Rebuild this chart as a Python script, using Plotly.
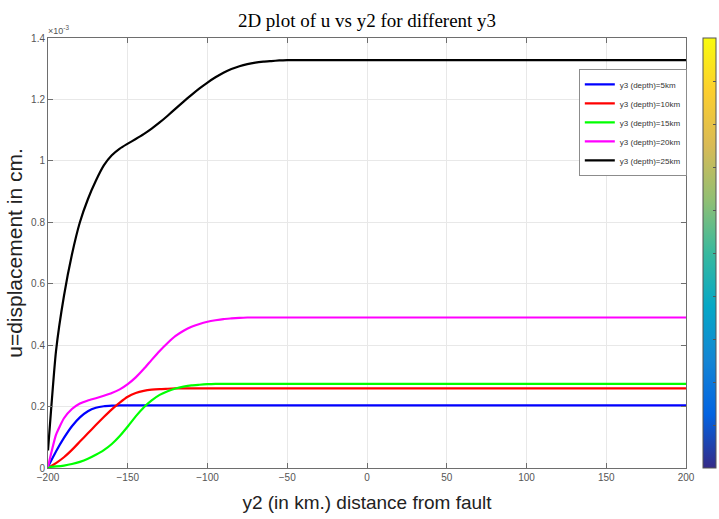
import plotly.graph_objects as go

# distance from fault (km)
y2 = [-200, -195, -190, -185, -180, -175, -170, -165, -160, -155, -150, -145, -140,
      -135, -130, -125, -120, -115, -110, -105, -100, -95, -90, -85, -80, -75, -70,
      -65, -60, -55, -50, -45, -40, 0, 50, 100, 150, 200]

# displacement u, in units of 1e-3 cm
u_5km = [0.004, 0.054, 0.098, 0.136, 0.165, 0.185, 0.196, 0.201, 0.203, 0.204, 0.204, 0.204, 0.204,
         0.204, 0.204, 0.204, 0.204, 0.204, 0.204, 0.204, 0.204, 0.204, 0.204, 0.204, 0.204, 0.204, 0.204,
         0.204, 0.204, 0.204, 0.204, 0.204, 0.204, 0.204, 0.204, 0.204, 0.204, 0.204]
u_10km = [0.000, 0.016, 0.035, 0.059, 0.086, 0.113, 0.140, 0.166, 0.191, 0.213, 0.232, 0.244, 0.251,
          0.255, 0.257, 0.258, 0.259, 0.259, 0.259, 0.259, 0.259, 0.259, 0.259, 0.259, 0.259, 0.259, 0.259,
          0.259, 0.259, 0.259, 0.259, 0.259, 0.259, 0.259, 0.259, 0.259, 0.259, 0.259]
u_15km = [0.003, 0.005, 0.008, 0.013, 0.020, 0.030, 0.043, 0.058, 0.078, 0.104, 0.135, 0.168, 0.197,
          0.220, 0.238, 0.250, 0.259, 0.265, 0.269, 0.271, 0.273, 0.274, 0.274, 0.274, 0.274, 0.274, 0.274,
          0.274, 0.274, 0.274, 0.274, 0.274, 0.274, 0.274, 0.274, 0.274, 0.274, 0.274]
u_20km = [0.004, 0.108, 0.162, 0.192, 0.210, 0.220, 0.227, 0.235, 0.244, 0.256, 0.273, 0.295, 0.322,
          0.352, 0.381, 0.407, 0.430, 0.447, 0.460, 0.469, 0.476, 0.481, 0.485, 0.487, 0.489, 0.490, 0.490,
          0.490, 0.490, 0.490, 0.490, 0.490, 0.490, 0.490, 0.490, 0.490, 0.490, 0.490]
u_25km = [0.057, 0.380, 0.560, 0.695, 0.800, 0.875, 0.935, 0.985, 1.018, 1.040, 1.056, 1.071, 1.087,
          1.105, 1.125, 1.147, 1.170, 1.193, 1.215, 1.236, 1.255, 1.272, 1.287, 1.299, 1.308, 1.315, 1.320,
          1.323, 1.325, 1.327, 1.328, 1.328, 1.328, 1.328, 1.328, 1.328, 1.328, 1.328]

series_names = ["y3 (depth)=5km", "y3 (depth)=10km", "y3 (depth)=15km",
                "y3 (depth)=20km", "y3 (depth)=25km"]
series_values = [u_5km, u_10km, u_15km, u_20km, u_25km]
series_colors = ["#0000ff", "#ff0000", "#00ff00", "#ff00ff", "#000000"]

x_ticks = [-200, -150, -100, -50, 0, 50, 100, 150, 200]
y_ticks = [0, 0.2, 0.4, 0.6, 0.8, 1.0, 1.2, 1.4]
y_tick_labels = ["0", "0.2", "0.4", "0.6", "0.8", "1", "1.2", "1.4"]

parula = [
    [0.0, "#352a87"], [0.125, "#0363e1"], [0.25, "#1485d4"], [0.375, "#06a7c6"],
    [0.5, "#38b99e"], [0.625, "#92bf73"], [0.75, "#d9ba56"], [0.875, "#fcce2e"],
    [1.0, "#f9fb0e"],
]

SANS = "Liberation Sans, Arial, sans-serif"

fig = go.Figure()
for name, vals, col in zip(series_names, series_values, series_colors):
    fig.add_trace(go.Scatter(x=y2, y=vals, mode="lines", name=name,
                             line=dict(color=col, width=2.2, shape="spline", smoothing=0.5)))

# colorbar (MATLAB default parula), no labels
fig.add_trace(go.Scatter(
    x=[None], y=[None], mode="markers", showlegend=False, hoverinfo="skip",
    marker=dict(color=[0], cmin=0, cmax=1, colorscale=parula, showscale=True,
                colorbar=dict(x=1.0266, xanchor="left", y=0.5, yanchor="middle",
                              len=1.0, lenmode="fraction", thickness=13,
                              xpad=0, ypad=0, outlinecolor="#555555", outlinewidth=1,
                              ticks="inside", ticklen=3, tickcolor="#555555",
                              tickvals=[i / 10 for i in range(11)],
                              showticklabels=False))))

axis_common = dict(ticks="inside", ticklen=5, tickcolor="#6e6e6e", mirror="ticks",
                   showline=True, linecolor="#6e6e6e", linewidth=1,
                   showgrid=True, gridcolor="#e8e8e8", gridwidth=1, zeroline=False,
                   tickfont=dict(family=SANS, size=10, color="#555555"))

fig.update_layout(
    width=719, height=519,
    margin=dict(l=48, r=33, t=38, b=51, autoexpand=False),
    paper_bgcolor="white", plot_bgcolor="white",
    title=dict(text="2D plot of u vs y2 for different y3", x=0.5, xref="paper",
               y=0.961, yanchor="middle",
               font=dict(family="Liberation Serif, serif", size=19, color="#000000")),
    xaxis=dict(range=[-200, 200], tickvals=x_ticks,
               title=dict(text="y2 (in km.) distance from fault", standoff=13,
                          font=dict(family=SANS, size=19, color="#222222")),
               **axis_common),
    yaxis=dict(range=[0, 1.4], tickvals=y_ticks, ticktext=y_tick_labels,
               title=dict(text="u=displacement in cm.", standoff=2,
                          font=dict(family=SANS, size=21, color="#222222")),
               **axis_common),
    legend=dict(x=0.832, y=0.928, xanchor="left", yanchor="top",
                bgcolor="white", bordercolor="#8c8c8c", borderwidth=1,
                font=dict(family=SANS, size=8, color="#333333"),
                tracegroupgap=0),
    showlegend=True,
)

fig.add_annotation(text="×10<sup>-3</sup>", xref="paper", yref="paper", x=0, y=1,
                   xanchor="left", yanchor="bottom", showarrow=False, xshift=-2,
                   font=dict(family=SANS, size=9, color="#555555"))

fig.write_html("out.html")
